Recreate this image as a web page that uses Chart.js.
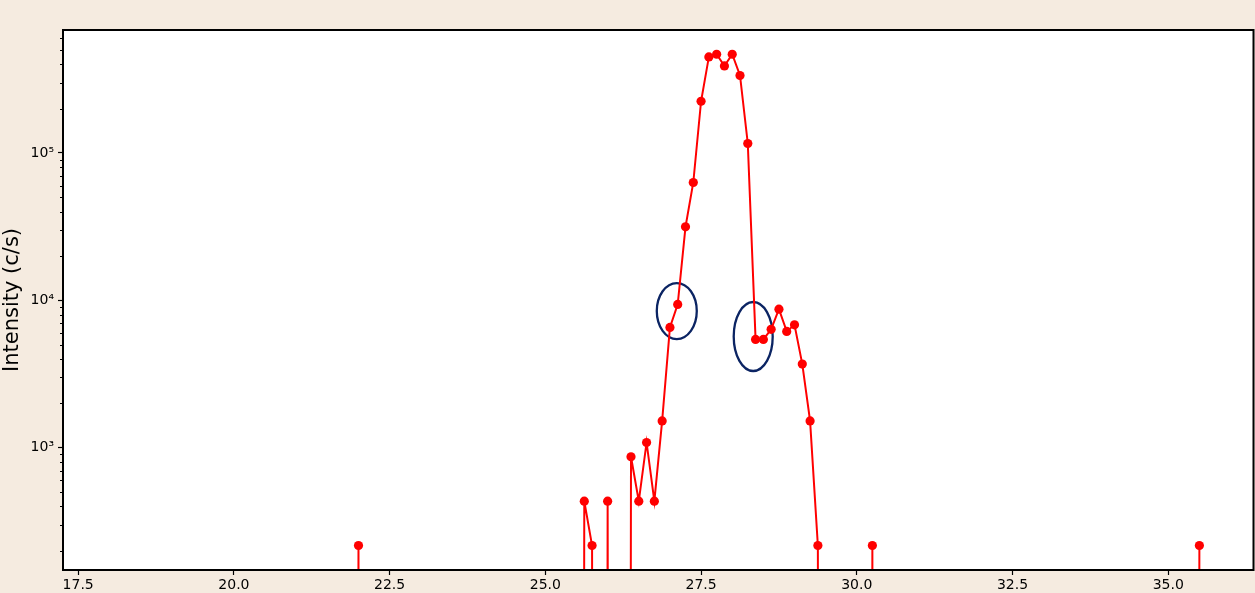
<!DOCTYPE html>
<html><head><meta charset="utf-8">
<script src="https://cdn.jsdelivr.net/npm/chart.js@4/dist/chart.umd.min.js"></script>
<style>html,body{margin:0;padding:0;background:#f5ebe0;} canvas{display:block;}</style>
</head><body>
<canvas id="c" width="1255" height="593"></canvas>
<script>
// ---- data ----
const twoTheta = [21.875, 22.0, 22.125,
  25.5, 25.625, 25.75, 25.875, 26.0, 26.125, 26.25,
  26.375, 26.5, 26.625, 26.75, 26.875, 27.0, 27.125, 27.25, 27.375, 27.5,
  27.625, 27.75, 27.875, 28.0, 28.125, 28.25, 28.375, 28.5, 28.625, 28.75,
  28.875, 29.0, 29.125, 29.25, 29.375, 29.5,
  30.125, 30.25, 30.375,
  35.375, 35.5];
const intensity = [0, 217, 0,
  0, 434, 217, 0, 434, 0, 0,
  868, 434, 1085, 434, 1519, 6550, 9380, 31500, 63000, 224000,
  448000, 467000, 389000, 467000, 335000, 115800, 5430, 5430, 6350, 8700,
  6150, 6820, 3690, 1520, 217, 0,
  0, 217, 0,
  0, 217];
const xTickValues = [17.5, 20.0, 22.5, 25.0, 27.5, 30.0, 32.5, 35.0];
const yTickValues = [200,300,400,500,600,700,800,900,1000,
  2000,3000,4000,5000,6000,7000,8000,9000,10000,
  20000,30000,40000,50000,60000,70000,80000,90000,100000,
  200000,300000,400000,500000,600000];
const yMajorLabels = {1000: '10\u00B3', 10000: '10\u2074', 100000: '10\u2075'};
const yAxisTitle = 'Intensity (c/s)';
// highlighted regions (centre in data units, half-width in x units, half-height in decades)
const ellipseCenterX = [27.11, 28.337];
const ellipseCenterY = [8450, 5680];
const ellipseHalfWidthX = [0.321, 0.313];
const ellipseHalfHeightDecades = [0.19, 0.234];

const X_MIN = 17.25625, X_MAX = 36.36875;
const Y_MIN = 148, Y_MAX = 682000;
// non-positive values are clipped to a tiny number (log-axis clip behaviour)
const CLIP_VALUE = 1e-30;
const points = twoTheta.map((x, i) => ({x: x, y: intensity[i] > 0 ? intensity[i] : CLIP_VALUE}));

const FONT = "'DejaVu Sans', 'Liberation Sans', sans-serif";
const BG = '#f5ebe0';

const framePlugin = {
  id: 'frame',
  beforeDraw(chart) {
    const {ctx, chartArea: a} = chart;
    ctx.save();
    ctx.fillStyle = BG;
    ctx.fillRect(0, 0, chart.width, chart.height);
    ctx.fillStyle = '#ffffff';
    ctx.fillRect(a.left, a.top, a.right - a.left, a.bottom - a.top);
    ctx.restore();
  },
  beforeDatasetsDraw(chart) {
    const {ctx, chartArea: a} = chart;
    const xs = chart.scales.x, ys = chart.scales.y;
    ctx.save();
    ctx.beginPath();
    ctx.rect(a.left, a.top, a.right - a.left, a.bottom - a.top);
    ctx.clip();
    ctx.strokeStyle = '#0b2463';
    ctx.lineWidth = 2.3;
    for (let i = 0; i < ellipseCenterX.length; i++) {
      const cx = xs.getPixelForValue(ellipseCenterX[i]);
      const cy = ys.getPixelForValue(ellipseCenterY[i]);
      const rx = Math.abs(xs.getPixelForValue(ellipseCenterX[i] + ellipseHalfWidthX[i]) - cx);
      const ry = Math.abs(ys.getPixelForValue(ellipseCenterY[i] * Math.pow(10, ellipseHalfHeightDecades[i])) - cy);
      ctx.beginPath();
      ctx.ellipse(cx, cy, rx, ry, 0, 0, Math.PI * 2);
      ctx.stroke();
    }
    ctx.restore();
  },
  afterDraw(chart) {
    const {ctx, chartArea: a} = chart;
    const ys = chart.scales.y;
    ctx.save();
    // minor y ticks
    ctx.strokeStyle = '#000';
    ctx.lineWidth = 1;
    ys.ticks.forEach(t => {
      if (yMajorLabels[t.value]) return;
      const y = Math.round(ys.getPixelForValue(t.value)) + 0.5;
      ctx.beginPath();
      ctx.moveTo(a.left - 3, y);
      ctx.lineTo(a.left, y);
      ctx.stroke();
    });
    // frame
    ctx.lineWidth = 2;
    ctx.strokeRect(a.left, a.top, a.right - a.left, a.bottom - a.top);
    ctx.restore();
  }
};

new Chart(document.getElementById('c'), {
  type: 'line',
  data: {
    datasets: [{
      data: points,
      borderColor: '#ff0000',
      backgroundColor: '#ff0000',
      borderWidth: 2,
      pointRadius: 4.6,
      pointBorderWidth: 0,
      pointBackgroundColor: '#ff0000',
      tension: 0,
      fill: false
    }]
  },
  options: {
    responsive: false,
    devicePixelRatio: 1,
    animation: false,
    events: [],
    layout: {autoPadding: false, padding: {top: 30, right: 1.5, left: 0, bottom: 0}},
    plugins: {legend: {display: false}, tooltip: {enabled: false}},
    scales: {
      x: {
        type: 'linear',
        min: X_MIN, max: X_MAX,
        afterBuildTicks(scale) { scale.ticks = xTickValues.map(v => ({value: v})); },
        afterFit(scale) { scale.height = 23; },
        border: {display: false},
        grid: {drawOnChartArea: false, drawTicks: true, tickLength: 5, tickColor: '#000', tickWidth: 1.2},
        ticks: {
          autoSkip: false, maxRotation: 0, padding: 2,
          color: '#000', font: {family: FONT, size: 14},
          callback: v => Number(v).toFixed(1)
        }
      },
      y: {
        type: 'logarithmic',
        min: Y_MIN, max: Y_MAX,
        afterBuildTicks(scale) { scale.ticks = yTickValues.map(v => ({value: v})); },
        afterFit(scale) { scale.width = 63; },
        border: {display: false},
        grid: {
          drawOnChartArea: false, drawTicks: true, tickLength: 5,
          tickColor: ctx => (ctx.tick && yMajorLabels[ctx.tick.value]) ? '#000' : 'rgba(0,0,0,0)',
          tickWidth: 1.2
        },
        ticks: {
          autoSkip: false, padding: 4,
          color: '#000', font: {family: FONT, size: 14},
          callback: v => yMajorLabels[v] || ''
        },
        title: {
          display: true, text: yAxisTitle, color: '#000',
          font: {family: FONT, size: 21, lineHeight: 1.2},
          padding: {top: 0, bottom: 0}
        }
      }
    }
  },
  plugins: [framePlugin]
});
</script>
</body></html>
